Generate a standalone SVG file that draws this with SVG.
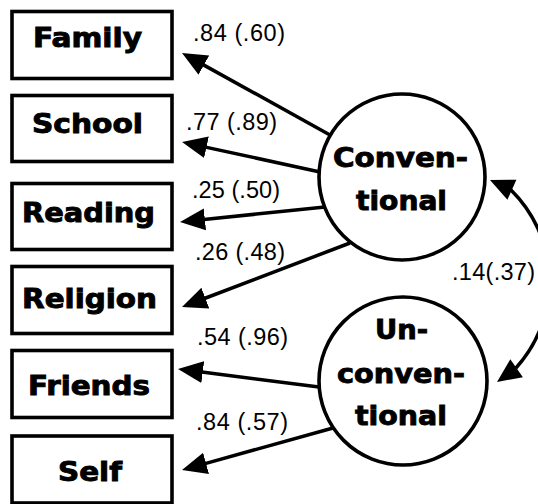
<svg xmlns="http://www.w3.org/2000/svg" width="538" height="504" viewBox="0 0 538 504">
<style>
.box{fill:#fff;stroke:#000;stroke-width:3.6}
.lat{fill:#fff;stroke:#000;stroke-width:3.6}
.lbl{font-family:"DejaVu Sans",sans-serif;font-weight:bold;font-size:26px;fill:#000;stroke:#000;stroke-width:0.9}
.clbl{font-family:"DejaVu Sans",sans-serif;font-weight:bold;font-size:27px;fill:#000;stroke:#000;stroke-width:0.9;text-anchor:middle}
.coef{font-family:"Liberation Sans",Arial,sans-serif;font-size:23.5px;fill:#000}
.ln{fill:none;stroke:#000;stroke-width:3.5}
</style>
<defs>
<marker id="ah" markerUnits="userSpaceOnUse" viewBox="0 0 25 24" refX="1" refY="12" markerWidth="25" markerHeight="24" orient="auto">
<path d="M0,1 L25,12 L0,23 z" fill="#000"/>
</marker>
</defs>
<g id="connectors">
<path class="ln" d="M330,135 L203,64.6" marker-end="url(#ah)"/>
<path class="ln" d="M320,172 L205.5,147.1" marker-end="url(#ah)"/>
<path class="ln" d="M325,207 L203.9,219.5" marker-end="url(#ah)"/>
<path class="ln" d="M350,243 L204.4,298.5" marker-end="url(#ah)"/>
<path class="ln" d="M319,387 L201.8,372" marker-end="url(#ah)"/>
<path class="ln" d="M333,428 L205.1,463.6" marker-end="url(#ah)"/>
<path class="ln" d="M511,190 A128.5,128.5 0 0 1 516,368"/>
<polygon points="490,180 516.4,179.8 507.4,199.8" fill="#000"/>
<polygon points="497,382 522.9,377.2 510.3,359.2" fill="#000"/>
</g>
<g id="family"><rect class="box" x="12" y="11.5" width="160" height="67"/><text class="lbl" x="33" y="47" textLength="109" lengthAdjust="spacingAndGlyphs">Family</text></g>
<g id="school"><rect class="box" x="12" y="95.5" width="160" height="66"/><text class="lbl" x="32" y="133" textLength="111" lengthAdjust="spacingAndGlyphs">School</text></g>
<g id="reading"><rect class="box" x="12" y="183.5" width="160" height="66"/><text class="lbl" x="22" y="222" textLength="133" lengthAdjust="spacingAndGlyphs">Reading</text></g>
<g id="religion"><rect class="box" x="12" y="266.5" width="160" height="67"/><text class="lbl" x="22" y="308" textLength="135" lengthAdjust="spacingAndGlyphs">Religion</text></g>
<g id="friends"><rect class="box" x="12" y="350.5" width="160" height="67"/><text class="lbl" x="28" y="395" textLength="122" lengthAdjust="spacingAndGlyphs">Friends</text></g>
<g id="self"><rect class="box" x="12" y="436" width="160" height="67"/><text class="lbl" x="58" y="481" textLength="64" lengthAdjust="spacingAndGlyphs">Self</text></g>
<g id="conventional"><circle class="lat" cx="402" cy="177" r="83"/>
<text class="clbl" x="400.5" y="167" textLength="135" lengthAdjust="spacingAndGlyphs">Conven-</text>
<text class="clbl" x="401.5" y="210" textLength="91" lengthAdjust="spacingAndGlyphs">tional</text></g>
<g id="unconventional"><circle class="lat" cx="403" cy="381" r="84"/>
<text class="clbl" x="401.5" y="339" textLength="53" lengthAdjust="spacingAndGlyphs">Un-</text>
<text class="clbl" x="401" y="383" textLength="128" lengthAdjust="spacingAndGlyphs">conven-</text>
<text class="clbl" x="401" y="425" textLength="92" lengthAdjust="spacingAndGlyphs">tional</text></g>
<g id="labels">
<text class="coef" x="193" y="41" textLength="92">.84 (.60)</text>
<text class="coef" x="186" y="130" textLength="91">.77 (.89)</text>
<text class="coef" x="192" y="198" textLength="88">.25 (.50)</text>
<text class="coef" x="195" y="260" textLength="90">.26 (.48)</text>
<text class="coef" x="197" y="345" textLength="91">.54 (.96)</text>
<text class="coef" x="196" y="430" textLength="92">.84 (.57)</text>
<text class="coef" x="452" y="280" textLength="83">.14(.37)</text>
</g>
</svg>
